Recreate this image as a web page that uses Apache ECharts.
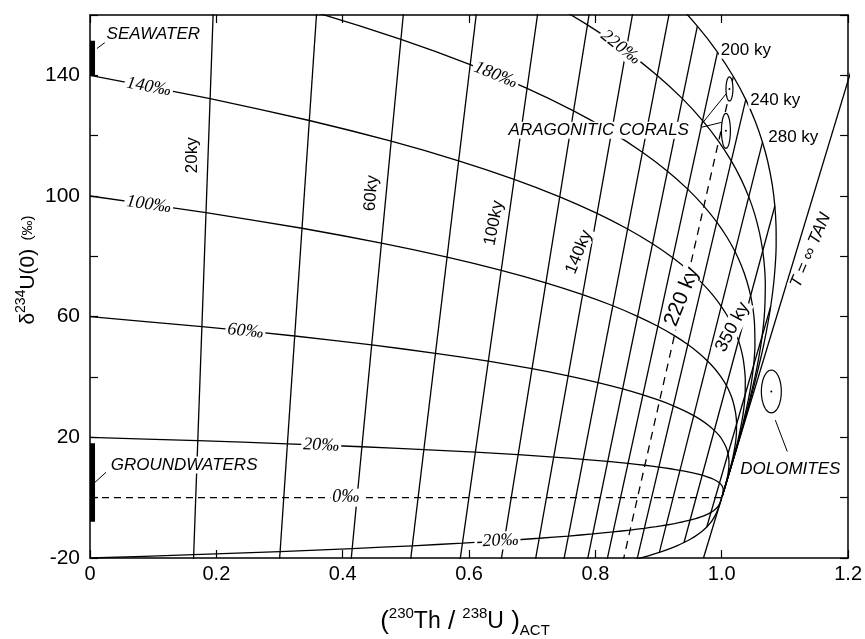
<!DOCTYPE html>
<html><head><meta charset="utf-8">
<script src="https://cdn.jsdelivr.net/npm/echarts/dist/echarts.min.js"></script>
<style>html,body{margin:0;padding:0;background:#fff}#c{width:865px;height:639px}</style>
</head><body><div id="c"></div>
<script>
// ---------- tick labels ----------
const xTickLabels = ['0','0.2','0.4','0.6','0.8','1.0','1.2'];
const yTickLabels = [-20, 20, 60, 100, 140];

// ---------- curves of constant initial δ234U (points: [230Th/238U, δ234U]) ----------
const curve260 = [[0,260],[0.20963,245.71],[0.38184,232.21],[0.52304,219.45],[0.63854,207.38],[0.73275,195.99],[0.80934,185.21],[0.87136,175.03],[0.92135,165.41],[0.96140,156.32],[0.99327,147.73],[1.01842,139.61],[1.03803,131.94],[1.05312,124.69],[1.06450,117.83],[1.07286,111.36],[1.07993,103.76],[1.08406,96.69],[1.08594,90.09],[1.08612,83.94],[1.08308,72.88],[1.07740,63.28],[1.07052,54.94],[1.06334,47.70],[1.04975,35.96],[1.03829,27.10],[1.02919,20.43],[1.02214,15.40],[1.01263,8.75],[1.00542,3.75],[1.00132,0.91]];
const curve220 = [[0,220],[0.20313,207.91],[0.37028,196.48],[0.50761,185.68],[0.62020,175.48],[0.71230,165.83],[0.78741,156.72],[0.84847,148.11],[0.89791,139.97],[0.93775,132.27],[0.96967,125.00],[0.99507,118.13],[1.01510,111.64],[1.03072,105.51],[1.04274,99.71],[1.05179,94.23],[1.05979,87.80],[1.06489,81.81],[1.06776,76.23],[1.06892,71.03],[1.06781,61.67],[1.06391,53.54],[1.05867,46.49],[1.05296,40.36],[1.04184,30.42],[1.03230,22.93],[1.02466,17.29],[1.01871,13.03],[1.01069,7.40],[1.00459,3.17],[1.00112,0.77]];
const curve180 = [[0,180],[0.19662,170.11],[0.35872,160.76],[0.49218,151.92],[0.60186,143.57],[0.69184,135.68],[0.76547,128.22],[0.82557,121.18],[0.87447,114.52],[0.91409,108.22],[0.94606,102.28],[0.97172,96.65],[0.99216,91.34],[1.00832,86.32],[1.02097,81.58],[1.03072,77.10],[1.03965,71.84],[1.04572,66.94],[1.04958,62.37],[1.05173,58.11],[1.05253,50.46],[1.05042,43.81],[1.04682,38.04],[1.04259,33.02],[1.03394,24.89],[1.02631,18.76],[1.02013,14.14],[1.01529,10.66],[1.00874,6.06],[1.00375,2.60],[1.00091,0.63]];
const curve140 = [[0,140],[0.19012,132.31],[0.34716,125.03],[0.47674,118.16],[0.58352,111.67],[0.67139,105.53],[0.74354,99.73],[0.80267,94.25],[0.85103,89.07],[0.89043,84.17],[0.92245,79.55],[0.94837,75.18],[0.96923,71.04],[0.98593,67.14],[0.99920,63.45],[1.00965,59.96],[1.01951,55.87],[1.02655,52.06],[1.03139,48.51],[1.03453,45.20],[1.03725,39.24],[1.03694,34.07],[1.03497,29.58],[1.03221,25.69],[1.02603,19.36],[1.02031,14.59],[1.01560,11.00],[1.01187,8.29],[1.00679,4.71],[1.00292,2.02],[1.00071,0.49]];
const curve100 = [[0,100],[0.18362,94.50],[0.33560,89.31],[0.46131,84.40],[0.56519,79.76],[0.65093,75.38],[0.72161,71.24],[0.77978,67.32],[0.82758,63.62],[0.86678,60.12],[0.89885,56.82],[0.92502,53.70],[0.94630,50.75],[0.96353,47.96],[0.97744,45.32],[0.98858,42.83],[0.99937,39.91],[1.00738,37.19],[1.01321,34.65],[1.01734,32.29],[1.02197,28.03],[1.02345,24.34],[1.02312,21.13],[1.02183,18.35],[1.01812,13.83],[1.01432,10.42],[1.01107,7.86],[1.00845,5.92],[1.00485,3.37],[1.00209,1.44],[1.00051,0.35]];
const curve60 = [[0,60],[0.17711,56.70],[0.32404,53.59],[0.44588,50.64],[0.54685,47.86],[0.63047,45.23],[0.69967,42.74],[0.75688,40.39],[0.80414,38.17],[0.84312,36.07],[0.87524,34.09],[0.90167,32.22],[0.92336,30.45],[0.94113,28.77],[0.95567,27.19],[0.96751,25.70],[0.97923,23.95],[0.98821,22.31],[0.99503,20.79],[1.00014,19.37],[1.00669,16.82],[1.00996,14.60],[1.01127,12.68],[1.01146,11.01],[1.01022,8.30],[1.00833,6.25],[1.00654,4.71],[1.00503,3.55],[1.00290,2.02],[1.00125,0.87],[1.00030,0.21]];
const curve20 = [[0,20],[0.17061,18.90],[0.31248,17.86],[0.43045,16.88],[0.52851,15.95],[0.61002,15.08],[0.67774,14.25],[0.73399,13.46],[0.78070,12.72],[0.81947,12.02],[0.85163,11.36],[0.87832,10.74],[0.90043,10.15],[0.91874,9.59],[0.93390,9.06],[0.94644,8.57],[0.95909,7.98],[0.96904,7.44],[0.97685,6.93],[0.98295,6.46],[0.99141,5.61],[0.99647,4.87],[0.99942,4.23],[1.00108,3.67],[1.00231,2.77],[1.00234,2.08],[1.00201,1.57],[1.00161,1.18],[1.00095,0.67],[1.00042,0.29],[1.00010,0.07]];
const curve0 = [[0,0],[1.0,0]];
const curveM20 = [[0,-20],[0.16411,-18.90],[0.30092,-17.86],[0.41501,-16.88],[0.51017,-15.95],[0.58956,-15.08],[0.65580,-14.25],[0.71109,-13.46],[0.75726,-12.72],[0.79581,-12.02],[0.82803,-11.36],[0.85496,-10.74],[0.87749,-10.15],[0.89634,-9.59],[0.91214,-9.06],[0.92536,-8.57],[0.93895,-7.98],[0.94988,-7.44],[0.95867,-6.93],[0.96575,-6.46],[0.97613,-5.61],[0.98299,-4.87],[0.98758,-4.23],[0.99070,-3.67],[0.99441,-2.77],[0.99634,-2.08],[0.99747,-1.57],[0.99819,-1.18],[0.99901,-0.67],[0.99958,-0.29],[0.99990,-0.07]];
const curveM40 = [[0.84329,-21.48],[0.86603,-20.30],[0.88514,-19.18],[0.90125,-18.13],[0.91483,-17.13],[0.92888,-15.96],[0.94029,-14.87],[0.94958,-13.86],[0.95715,-12.91],[0.96849,-11.21],[0.97624,-9.74],[0.98165,-8.45],[0.98551,-7.34],[0.99045,-5.53],[0.99335,-4.17],[0.99521,-3.14],[0.99648,-2.37],[0.99803,-1.35],[0.99917,-0.58],[0.99980,-0.14]];

// ---------- isochrons (ky), from the lowest to the highest initial-δ curve ----------
const isoAges = [20,40,60,80,100,120,140,160,180,200,220,240,280,350,500];
const isoBottom = [[0.16086,-37.80],[0.29514,-35.72],[0.40730,-33.76],[0.50100,-31.91],[0.57933,-30.15],[0.64484,-28.49],[0.69964,-26.93],[0.74554,-25.45],[0.78398,-24.05],[0.81622,-22.73],[0.84329,-21.48],[0.86603,-20.30],[0.90125,-18.13],[0.94029,-14.87],[0.97624,-9.74]];
const isoTop = [[0.20963,245.71],[0.38184,232.21],[0.52304,219.45],[0.63854,207.38],[0.73275,195.99],[0.80934,185.21],[0.87136,175.03],[0.92135,165.41],[0.96140,156.32],[0.99327,147.73],[1.01842,139.61],[1.03803,131.94],[1.06450,117.83],[1.08406,96.69],[1.07740,63.28]];
const dashedIsoAge = 220;
const tInfinity = [[0.97107,-20],[1.23142,160]];

// ---------- samples ----------
const seawaterBar = [[0.004,140],[0.004,151.5]];
const groundwaterBar = [[0.004,-8],[0.004,18]];
const ellipses = [[1.0122,135.5,0.0055,4.0],[1.0066,121.6,0.0071,5.8],[1.0785,35.2,0.0158,7.1]];
const leaders = [
  [[0.011,148.9],[0.0237,150.9]],
  [[0.0032,4.2],[0.0253,8.4]],
  [[1.0848,25.7],[1.1037,15.3]],
  [[0.9664,123.4],[1.0074,134.0]],
  [[0.9680,122.8],[0.9995,124.4]]
];

// ---------- text annotations ----------
const curveLabelText = ['220‰','180‰','140‰','100‰','60‰','20‰','0‰','-20‰'];
const curveLabelAt = [[0.840,149.3],[0.642,140.1],[0.093,136.2],[0.093,97.2],[0.246,55.2],[0.366,17.4],[0.405,0],[0.645,-14.3]];
const curveLabelAngle = [-38,-22,-10,-8,-6,-2,0,3];

const ageLabelText = ['20ky','60ky','100ky','140ky','220 ky','350 ky','200 ky','240 ky','280 ky'];
const ageLabelAt = [[0.1626,113.5],[0.4453,100.9],[0.6395,91.0],[0.7737,81.4],[0.9370,66.6],[1.0170,56.5],[1.0382,148.3],[1.0848,131.7],[1.1132,119.5]];
const ageLabelAngle = [90,85,79,68,68,62,0,0,0];
const ageLabelSize = [17,17,17,17,21,18,17,17,17];

const sampleText = ['SEAWATER','GROUNDWATERS','ARAGONITIC CORALS','DOLOMITES','T = ∞ TAN'];
const sampleAt = [[0.1002,153.6],[0.149,10.8],[0.8053,121.8],[1.1085,9.4],[1.1408,82.0]];
const sampleAngle = [0,0,0,0,67];

// ---------- build ----------
const SANS = "'Liberation Sans', Arial, Helvetica, sans-serif";
const SERIF = "'Liberation Serif', 'Times New Roman', serif";
const BLACK = '#000';
const series = [];
function line(data, opts) {
  series.push(Object.assign({
    type: 'line', data: data, symbol: 'none', silent: true, clip: true, z: 2,
    lineStyle: { color: BLACK, width: 1.3, opacity: 1 }, animation: false
  }, opts || {}));
}
[curve260, curve220, curve180, curve140, curve100, curve60, curve20, curveM20, curveM40].forEach(c => line(c, { smooth: 0.2 }));
line(curve0, { lineStyle: { color: BLACK, width: 1.2, type: [7, 5] } });
isoAges.forEach((age, i) => {
  line([isoBottom[i], isoTop[i]], {
    lineStyle: { color: BLACK, width: 1.3, type: age === dashedIsoAge ? [8, 6] : 'solid' }
  });
});
line(tInfinity, { lineStyle: { color: BLACK, width: 1.3 } });
line(seawaterBar, { lineStyle: { color: BLACK, width: 5 }, z: 4 });
line(groundwaterBar, { lineStyle: { color: BLACK, width: 5 }, z: 4 });
leaders.forEach(l => line(l, { lineStyle: { color: BLACK, width: 1 }, z: 4 }));

series.push({
  type: 'custom', silent: true, z: 5, animation: false, clip: true,
  data: ellipses,
  renderItem: function (params, api) {
    const c = api.coord([api.value(0), api.value(1)]);
    const s = api.size([api.value(2), api.value(3)]);
    const pts = [];
    for (let k = 0; k < 48; k++) {
      const a = k / 48 * Math.PI * 2;
      pts.push([c[0] + s[0] * Math.cos(a), c[1] + s[1] * Math.sin(a)]);
    }
    return { type: 'group', children: [
      { type: 'polygon', shape: { points: pts }, style: { fill: '#fff', stroke: BLACK, lineWidth: 1.2 } },
      { type: 'circle', shape: { cx: c[0], cy: c[1], r: 1 }, style: { fill: BLACK } }
    ] };
  }
});

const labelItems = [];
function lab(extra) {
  return Object.assign({ show: true, position: 'inside', color: BLACK, opacity: 1,
    backgroundColor: '#fff', padding: [0, 2], textBorderWidth: 0 }, extra);
}
curveLabelText.forEach((t, i) => labelItems.push({
  value: curveLabelAt[i],
  label: lab({ formatter: t, rotate: curveLabelAngle[i], fontSize: 18, fontFamily: SERIF, fontStyle: 'italic' })
}));
ageLabelText.forEach((t, i) => labelItems.push({
  value: ageLabelAt[i],
  label: lab({ formatter: t, rotate: ageLabelAngle[i], fontSize: ageLabelSize[i], fontFamily: SANS })
}));
sampleText.forEach((t, i) => labelItems.push({
  value: sampleAt[i],
  label: lab({ formatter: t, rotate: sampleAngle[i], fontSize: 17, fontFamily: SANS, fontStyle: 'italic' })
}));
series.push({
  type: 'scatter', symbolSize: 0, silent: true, z: 10, animation: false,
  itemStyle: { opacity: 1, color: BLACK },
  data: labelItems,
  label: lab({})
});

const tickCommon = { show: true, inside: true, length: 8, lineStyle: { color: BLACK, width: 1.2 } };
const axisLineCommon = { show: true, onZero: false, lineStyle: { color: BLACK, width: 1.5 } };
const chart = echarts.init(document.getElementById('c'), null, { renderer: 'canvas' });
chart.setOption({
  backgroundColor: '#fff',
  animation: false,
  grid: { left: 90, right: 13, top: 15, bottom: 81, containLabel: false },
  xAxis: [
    { type: 'value', min: 0, max: 1.2, interval: 0.2, position: 'bottom',
      axisLine: axisLineCommon, axisTick: tickCommon, splitLine: { show: false },
      axisLabel: { color: BLACK, fontSize: 20, fontFamily: SANS, margin: 6,
        formatter: v => xTickLabels[Math.round(v / 0.2)] } },
    { type: 'value', min: 0, max: 1.2, interval: 0.2, position: 'top',
      axisLine: axisLineCommon, axisTick: tickCommon, splitLine: { show: false }, axisLabel: { show: false } }
  ],
  yAxis: [
    { type: 'value', min: -20, max: 160, interval: 20, position: 'left',
      axisLine: axisLineCommon, axisTick: tickCommon, splitLine: { show: false },
      axisLabel: { color: BLACK, fontSize: 21, fontFamily: SANS, margin: 10,
        formatter: v => (yTickLabels.indexOf(v) >= 0 ? String(v) : '') } },
    { type: 'value', min: -20, max: 160, interval: 20, position: 'right',
      axisLine: axisLineCommon, axisTick: tickCommon, splitLine: { show: false }, axisLabel: { show: false } }
  ],
  graphic: [
    { type: 'text', x: 465, y: 622, z: 20,
      style: { text: '{p|(}{s|230}{m|Th}{p| / }{s|238}{m|U}{p| )}{b|ACT}',
        align: 'center', verticalAlign: 'middle', fill: BLACK,
        rich: {
          p: { fontSize: 26, fontFamily: SANS, lineHeight: 32, fill: BLACK },
          m: { fontSize: 23, fontFamily: SANS, lineHeight: 32, fill: BLACK },
          s: { fontSize: 15, fontFamily: SANS, verticalAlign: 'top', lineHeight: 17, fill: BLACK },
          b: { fontSize: 15, fontFamily: SANS, verticalAlign: 'bottom', lineHeight: 15, fill: BLACK }
        } } },
    { type: 'text', x: 28, y: 270, rotation: Math.PI / 2, z: 20,
      style: { text: '{m|δ}{s|234}{m|U(0)}{q|  (‰)}',
        align: 'center', verticalAlign: 'middle', fill: BLACK,
        rich: {
          m: { fontSize: 21, fontFamily: SANS, lineHeight: 28, fill: BLACK },
          s: { fontSize: 14, fontFamily: SANS, verticalAlign: 'top', lineHeight: 16, fill: BLACK },
          q: { fontSize: 15, fontFamily: SANS, lineHeight: 28, fill: BLACK }
        } } }
  ],
  series: series
});
</script>
</body></html>
